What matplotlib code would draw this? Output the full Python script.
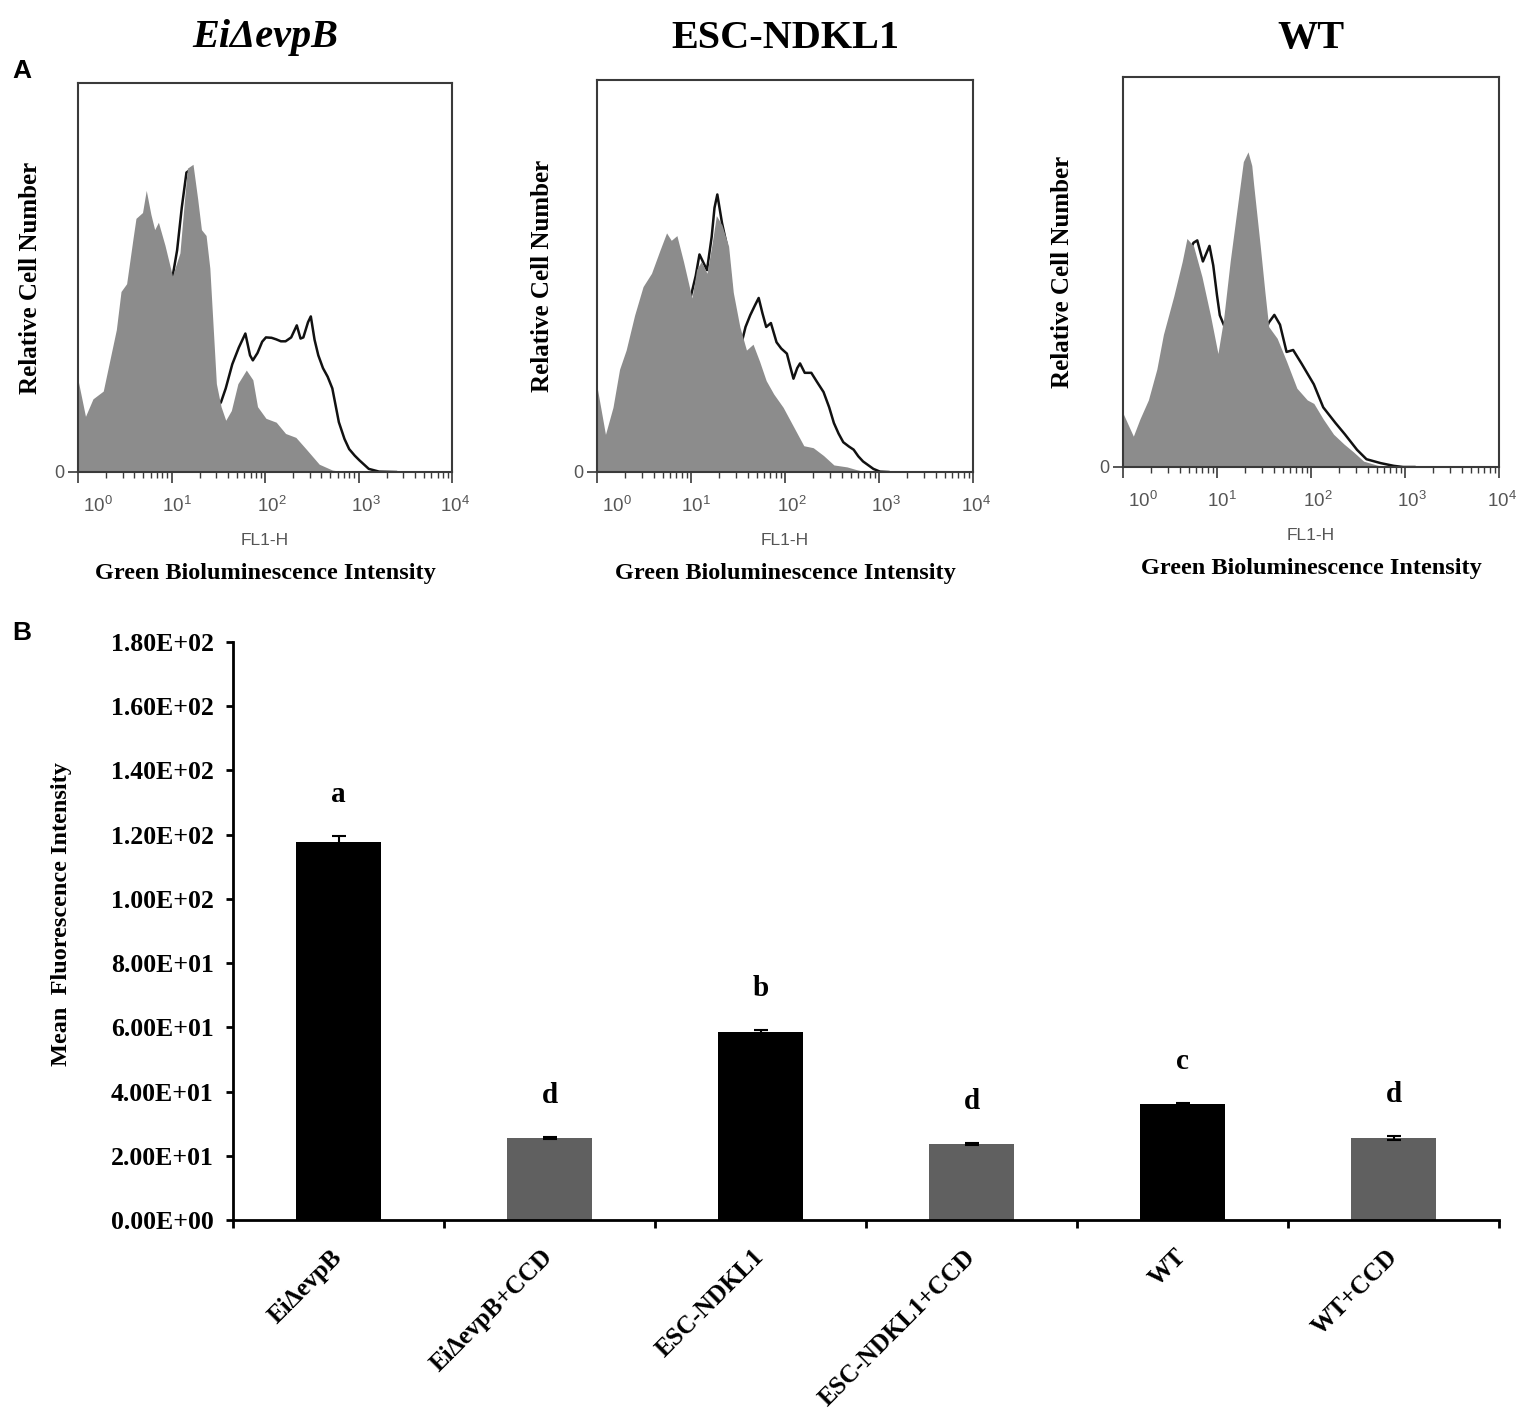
import matplotlib
matplotlib.use('Agg')
import matplotlib.pyplot as plt
import matplotlib.transforms as mtransforms
from matplotlib.ticker import LogLocator, NullFormatter
import numpy as np

plt.rcParams['mathtext.fontset'] = 'custom'
plt.rcParams['mathtext.rm'] = 'Liberation Sans'
plt.rcParams['mathtext.it'] = 'Liberation Sans:italic'
plt.rcParams['mathtext.bf'] = 'Liberation Sans:bold'

SERIF = 'Liberation Serif'
SANS = 'Liberation Sans'

## --- Data: panel A (flow cytometry histograms) --- ##
# x = log10(FL1-H), y = relative cell number (frame top = 100)
hist_titles = ['EiΔevpB', 'ESC-NDKL1', 'WT']

ei_fill_log = [0.0, 0.08, 0.16, 0.27, 0.34, 0.41, 0.46, 0.52, 0.59, 0.62, 0.69, 0.73, 0.78,
               0.82, 0.86, 0.93, 1.01, 1.09, 1.14, 1.17, 1.23, 1.28, 1.32, 1.37, 1.41, 1.48,
               1.53, 1.58, 1.64, 1.71, 1.80, 1.87, 1.92, 2.01, 2.12, 2.22, 2.33, 2.44, 2.58,
               2.72, 2.86, 4.0]
ei_fill_cnt = [23.7, 14.3, 18.8, 20.8, 28.7, 36.6, 46.4, 48.4, 60.3, 65.2, 66.7, 72.4, 66.2,
               62.3, 64.2, 58.3, 50.4, 56.3, 70.2, 78.1, 79.1, 70.2, 62.3, 60.8, 52.4, 22.7,
               16.8, 13.3, 15.8, 22.7, 26.2, 23.7, 16.8, 13.8, 12.8, 9.9, 8.9, 5.9, 2.0,
               0.5, 0.0, 0.0]
ei_line_log = [0.95, 1.01, 1.06, 1.11, 1.16, 1.22, 1.30, 1.38, 1.45, 1.49, 1.53, 1.58, 1.65,
               1.72, 1.79, 1.84, 1.87, 1.92, 1.97, 2.01, 2.07, 2.12, 2.17, 2.22, 2.28, 2.34,
               2.38, 2.41, 2.46, 2.49, 2.53, 2.57, 2.62, 2.67, 2.72, 2.79, 2.85, 2.90, 2.96,
               3.01, 3.11, 3.22, 3.40]
ei_line_cnt = [45.0, 50.0, 57.0, 68.0, 77.0, 78.0, 60.0, 50.0, 25.0, 16.5, 18.0, 21.5, 27.7,
               32.0, 35.6, 30.0, 28.7, 30.6, 33.5, 34.6, 34.5, 34.1, 33.6, 33.6, 34.6, 37.7,
               34.3, 34.6, 38.5, 40.0, 34.0, 30.0, 26.7, 24.5, 21.5, 12.8, 8.5, 5.9, 4.2,
               3.0, 0.8, 0.1, 0.0]

esc_fill_log = [0.0, 0.09, 0.17, 0.24, 0.31, 0.40, 0.49, 0.58, 0.67, 0.74, 0.79, 0.85, 0.92,
                1.01, 1.06, 1.11, 1.17, 1.22, 1.27, 1.33, 1.40, 1.45, 1.52, 1.59, 1.66, 1.73,
                1.80, 1.88, 1.98, 2.09, 2.20, 2.30, 2.41, 2.52, 2.66, 2.76, 2.87, 4.0]
esc_fill_cnt = [21.8, 9.6, 16.5, 26.2, 31.1, 40.0, 47.3, 50.7, 56.6, 61.0, 59.1, 60.3, 53.7,
                44.4, 51.7, 53.7, 50.7, 57.6, 65.4, 63.0, 57.6, 45.8, 37.0, 31.1, 32.6, 28.2,
                23.3, 19.9, 16.5, 11.6, 6.7, 6.2, 4.2, 1.8, 1.3, 0.6, 0.0, 0.0]
esc_line_log = [0.95, 1.05, 1.09, 1.13, 1.17, 1.22, 1.25, 1.28, 1.33, 1.38, 1.45, 1.50, 1.54,
                1.58, 1.63, 1.68, 1.72, 1.76, 1.80, 1.85, 1.91, 1.96, 2.02, 2.06, 2.09, 2.13,
                2.16, 2.21, 2.28, 2.34, 2.41, 2.47, 2.52, 2.57, 2.62, 2.68, 2.73, 2.78, 2.83,
                2.94, 3.01, 3.10]
esc_line_cnt = [40.0, 50.0, 55.5, 53.5, 51.5, 60.0, 67.4, 70.8, 63.5, 58.0, 42.0, 33.0, 33.1,
                37.0, 40.0, 42.5, 44.4, 40.5, 37.0, 38.0, 33.1, 31.5, 30.2, 26.5, 23.8, 26.5,
                27.7, 25.3, 25.3, 23.0, 20.4, 16.5, 12.5, 9.8, 7.6, 6.5, 5.7, 4.0, 2.7,
                0.8, 0.1, 0.0]

wt_fill_log = [0.0, 0.11, 0.18, 0.27, 0.36, 0.43, 0.54, 0.63, 0.68, 0.75, 0.84, 0.93, 1.01,
               1.07, 1.14, 1.21, 1.28, 1.33, 1.37, 1.39, 1.46, 1.51, 1.55, 1.64, 1.74, 1.85,
               1.96, 2.03, 2.13, 2.24, 2.35, 2.45, 2.56, 2.70, 2.81, 4.0]
wt_fill_cnt = [13.8, 7.9, 12.3, 17.2, 25.1, 34.0, 43.8, 52.7, 58.6, 56.7, 48.8, 38.9, 29.1,
               37.9, 52.7, 65.5, 78.3, 80.8, 77.3, 72.4, 56.7, 44.8, 36.0, 33.0, 27.1, 20.2,
               17.2, 16.3, 12.3, 8.4, 5.9, 3.9, 1.5, 0.5, 0.0, 0.0]
wt_line_log = [0.70, 0.75, 0.79, 0.85, 0.92, 0.96, 1.00, 1.03, 1.08, 1.12, 1.30, 1.40, 1.50,
               1.55, 1.61, 1.67, 1.74, 1.81, 1.90, 2.03, 2.13, 2.26, 2.36, 2.49, 2.59, 2.74,
               2.88, 2.98, 3.10]
wt_line_cnt = [55.0, 57.5, 58.1, 52.7, 56.7, 51.7, 44.0, 38.9, 36.0, 35.0, 60.0, 50.0, 34.0,
               37.0, 39.0, 36.5, 29.5, 30.0, 26.5, 21.2, 15.3, 11.3, 8.4, 4.4, 2.0, 1.0,
               0.3, 0.0, 0.0]

decades = [1, 10, 100, 1000, 10000]
decade_labels = ['$10^{0}$', '$10^{1}$', '$10^{2}$', '$10^{3}$', '$10^{4}$']

## --- Data: panel B (mean fluorescence intensity) --- ##
categories = ['EiΔevpB', 'EiΔevpB+CCD', 'ESC-NDKL1', 'ESC-NDKL1+CCD', 'WT', 'WT+CCD']
mfi_values = [117.8, 25.5, 58.6, 23.7, 36.0, 25.5]
mfi_errors = [1.8, 0.4, 0.5, 0.3, 0.5, 0.6]
sig_letters = ['a', 'd', 'b', 'd', 'c', 'd']
mfi_ticks = [0, 20, 40, 60, 80, 100, 120, 140, 160, 180]
mfi_tick_labels = ['0.00E+00', '2.00E+01', '4.00E+01', '6.00E+01', '8.00E+01',
                   '1.00E+02', '1.20E+02', '1.40E+02', '1.60E+02', '1.80E+02']

W, H = 1528, 1422
fig = plt.figure(figsize=(W / 100, H / 100), dpi=100)


def px_box(left, top, right, bottom):
    return [left / W, 1 - bottom / H, (right - left) / W, (bottom - top) / H]


## --- Panel A --- ##
panels = [
    (ei_fill_log, ei_fill_cnt, ei_line_log, ei_line_cnt, px_box(78, 83, 452, 472), 26, 'italic', -0.128),
    (esc_fill_log, esc_fill_cnt, esc_line_log, esc_line_cnt, px_box(597, 80, 973, 472), 23, 'normal', -0.144),
    (wt_fill_log, wt_fill_cnt, wt_line_log, wt_line_cnt, px_box(1123, 77, 1499, 467), 21, 'normal', -0.16),
]
label_shift = [20, 5, 7, 7, 3]  # px to the right of each decade tick

for title, (fl, fc, ll, lc, box, tpad, tstyle, ylab_x) in zip(hist_titles, panels):
    ax = fig.add_axes(box)
    ax.plot(10 ** np.array(ll), lc, color='#111111', lw=1.8, zorder=1, solid_joinstyle='round')
    ax.fill_between(10 ** np.array(fl), fc, 0, color='#8c8c8c', lw=0, zorder=2)
    ax.set_xscale('log')
    ax.set_xlim(1, 10000)
    ax.set_ylim(0, 100)
    for s in ax.spines.values():
        s.set_color('#3a3a3a')
        s.set_linewidth(1.5)
    ax.set_xticks(decades)
    ax.set_xticklabels(decade_labels)
    ax.xaxis.set_minor_locator(LogLocator(base=10, subs=np.arange(2, 10), numticks=20))
    ax.xaxis.set_minor_formatter(NullFormatter())
    ax.tick_params(axis='x', which='major', direction='out', length=8, width=1.2,
                   color='#3a3a3a', labelsize=13.5, labelcolor='#555555', pad=9)
    ax.tick_params(axis='x', which='minor', direction='out', length=4.5, width=1.0,
                   color='#3a3a3a')
    ax.set_yticks([0])
    ax.set_yticklabels(['0'], fontfamily=SANS)
    ax.tick_params(axis='y', direction='out', length=7, width=1.2, color='#3a3a3a',
                   labelsize=13, labelcolor='#555555', pad=3)
    for lab, dx in zip(ax.get_xticklabels(), label_shift):
        lab.set_transform(lab.get_transform() +
                          mtransforms.ScaledTranslation(dx / 100, 0, fig.dpi_scale_trans))
    ax.set_title(title, fontfamily=SERIF, fontweight='bold', fontstyle=tstyle,
                 fontsize=29, pad=tpad)
    ax.text(ylab_x, 0.5, 'Relative Cell Number', transform=ax.transAxes, rotation=90,
            ha='center', va='center', fontfamily=SERIF, fontweight='bold', fontsize=18)
    ax.text(0.5, -0.175, 'FL1-H', transform=ax.transAxes, ha='center', va='center',
            fontfamily=SANS, fontsize=12.5, color='#555555')
    ax.text(0.5, -0.26, 'Green Bioluminescence Intensity', transform=ax.transAxes,
            ha='center', va='center', fontfamily=SERIF, fontweight='bold', fontsize=17.5)

## --- Panel B --- ##
axb = fig.add_axes(px_box(233, 642, 1499, 1220))
xpos = np.arange(len(categories))
bar_colors = ['black' if not c.endswith('+CCD') else '#606060' for c in categories]
axb.bar(xpos, mfi_values, width=0.4, color=bar_colors, zorder=2)
axb.errorbar(xpos, mfi_values, yerr=mfi_errors, fmt='none', ecolor='black',
             elinewidth=1.5, capsize=5, capthick=1.5, zorder=3)
for xi, v, e, letter in zip(xpos, mfi_values, mfi_errors, sig_letters):
    axb.annotate(letter, (xi, v + e), xytext=(0, 30), textcoords='offset points',
                 ha='center', va='center', fontfamily=SERIF, fontweight='bold', fontsize=21)

axb.set_xlim(-0.5, len(categories) - 0.5)
axb.set_ylim(0, 180)
axb.spines['top'].set_visible(False)
axb.spines['right'].set_visible(False)
axb.spines['left'].set_linewidth(2)
axb.spines['bottom'].set_linewidth(2)

axb.set_yticks(mfi_ticks)
axb.set_yticklabels(mfi_tick_labels, fontfamily=SERIF, fontweight='bold', fontsize=18.5)
axb.tick_params(axis='y', direction='out', length=5, width=2, pad=9)

axb.set_xticks(xpos)
axb.set_xticklabels(categories, rotation=45, ha='right', va='center', rotation_mode='anchor',
                    fontfamily=SERIF, fontweight='bold', fontsize=18)
axb.tick_params(axis='x', which='major', length=0, pad=24)
axb.set_xticks(np.arange(-0.5, len(categories)), minor=True)
axb.tick_params(axis='x', which='minor', direction='out', length=6, width=2)

axb.set_ylabel('Mean  Fluorescence Intensity', fontfamily=SERIF, fontweight='bold', fontsize=17.5)
axb.yaxis.set_label_coords(-0.127, 0.53)

## --- Panel letters --- ##
fig.text(12 / W, 1 - 71 / H, 'A', ha='left', va='center', fontfamily=SANS,
         fontweight='bold', fontsize=19)
fig.text(12 / W, 1 - 633 / H, 'B', ha='left', va='center', fontfamily=SANS,
         fontweight='bold', fontsize=19)

fig.savefig('out.png', dpi=100)
